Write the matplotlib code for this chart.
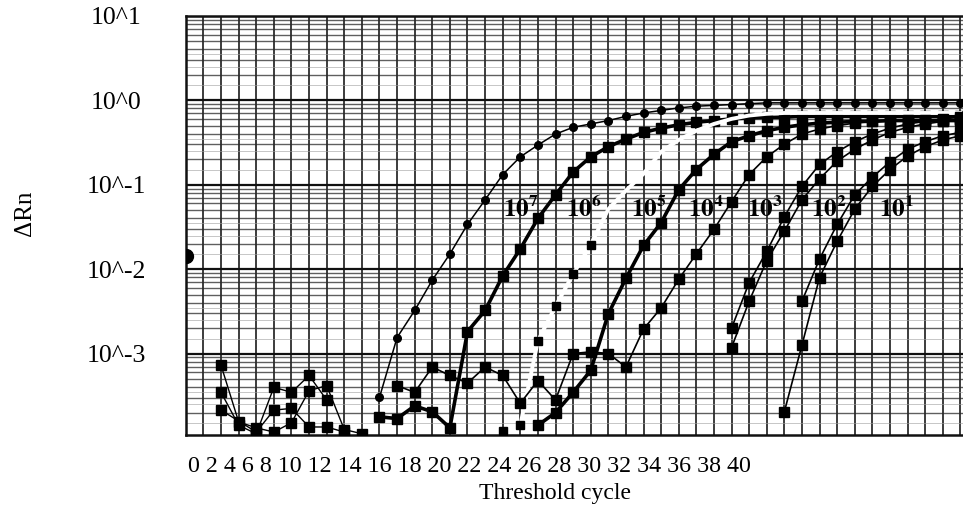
import numpy as np
import matplotlib
matplotlib.use("Agg")
import matplotlib.pyplot as plt

plt.rcParams["font.family"] = ["Liberation Serif", "DejaVu Serif"]
plt.rcParams["mathtext.fontset"] = "stix"

# --- data (x = cycle, y = log10 of delta Rn) ---
# 10^7 : thin line, small round markers
cyc_7 = list(range(11, 45))
lg_7 = [-3.52, -2.81, -2.49, -2.13, -1.82, -1.47, -1.18, -0.88, -0.67, -0.53,
        -0.40, -0.32, -0.28, -0.24, -0.19, -0.15, -0.12, -0.09, -0.07, -0.06,
        -0.05, -0.04, -0.03, -0.03, -0.03, -0.03, -0.03, -0.03, -0.03, -0.03,
        -0.03, -0.03, -0.03, -0.03]
# 10^6 : thick (duplicate overlap)
cyc_6 = list(range(11, 45))
lg_6 = [-3.75, -3.77, -3.62, -3.69, -3.88, -2.74, -2.49, -2.08, -1.76, -1.40,
        -1.12, -0.85, -0.67, -0.55, -0.46, -0.38, -0.33, -0.29, -0.26, -0.24,
        -0.22, -0.21, -0.20, -0.20, -0.19, -0.19, -0.19, -0.19, -0.19, -0.19,
        -0.19, -0.19, -0.19, -0.19]
# 10^5 : white line
cyc_5 = list(range(18, 45))
lg_5 = [-3.92, -3.85, -2.85, -2.44, -2.06, -1.71, -1.29, -1.07, -0.87, -0.61,
        -0.47, -0.36, -0.28, -0.22, -0.18, -0.16, -0.15, -0.15, -0.15, -0.15,
        -0.15, -0.15, -0.15, -0.15, -0.15, -0.15, -0.15]
# 10^4 : thick
cyc_4 = list(range(20, 45))
lg_4 = [-3.85, -3.70, -3.46, -3.20, -2.53, -2.11, -1.72, -1.45, -1.06, -0.82,
        -0.64, -0.49, -0.42, -0.36, -0.32, -0.29, -0.27, -0.26, -0.25, -0.25,
        -0.24, -0.24, -0.24, -0.24, -0.24]
# 10^3 : wavy baseline then rise
cyc_3 = list(range(12, 45))
lg_3 = [-3.38, -3.46, -3.16, -3.26, -3.35, -3.16, -3.26, -3.59, -3.32, -3.55,
        -3.00, -2.98, -3.00, -3.16, -2.71, -2.46, -2.12, -1.82, -1.53, -1.20,
        -0.88, -0.67, -0.52, -0.40, -0.34, -0.30, -0.27, -0.25, -0.24, -0.23,
        -0.23, -0.23, -0.23]
# 10^2 : pair
cyc_2 = list(range(31, 45))
lg_2a = [-2.70, -2.16, -1.79, -1.38, -1.02, -0.76, -0.61, -0.49, -0.40, -0.33,
         -0.28, -0.25, -0.22, -0.20]
lg_2b = [-2.93, -2.38, -1.90, -1.55, -1.18, -0.93, -0.72, -0.58, -0.47, -0.38,
         -0.32, -0.28, -0.25, -0.22]
# 10^1 : pair
cyc_1a = list(range(35, 45))
lg_1a = [-2.38, -1.88, -1.47, -1.12, -0.91, -0.73, -0.58, -0.49, -0.42, -0.38]
cyc_1b = list(range(34, 45))
lg_1b = [-3.69, -2.90, -2.10, -1.67, -1.29, -1.02, -0.82, -0.66, -0.55, -0.47, -0.42]
# early baseline noise
cyc_n1 = [2, 3, 4, 5, 6, 7, 8, 9, 10]
lg_n1 = [-3.14, -3.81, -3.88, -3.93, -3.82, -3.44, -3.38, -3.90, -3.95]
cyc_n2 = [2, 3, 4, 5, 6, 7, 8]
lg_n2 = [-3.46, -3.85, -3.95, -3.40, -3.46, -3.26, -3.55]
cyc_n3 = [2, 4, 5, 6, 7, 8, 9]
lg_n3 = [-3.67, -3.93, -3.67, -3.65, -3.87, -3.87, -3.93]
cyc_0 = [0]
lg_0 = [-1.85]

ytick_vals = [1e1, 1e0, 1e-1, 1e-2, 1e-3]
ytick_labels = ["10^1", "10^0", "10^-1", "10^-2", "10^-3"]
xtick_text = "0 2 4 6 8 10 12 14 16 18 20 22 24 26 28 30 32 34 36 38 40"
curve_labels = ["7", "6", "5", "4", "3", "2", "1"]
label_cycles = [18.0, 21.6, 25.3, 28.5, 31.9, 35.5, 39.4]

fig = plt.figure(figsize=(9.63, 5.08), dpi=100)
ax = fig.add_axes([0.193, 0.1437, 0.807, 0.825])
ax.set_yscale("log")
ax.set_xlim(0, 44.15)
ax.set_ylim(10 ** -3.965, 10 ** 0.965)

# graph-paper grid
for c in range(0, 45):
    ax.axvline(c, color="#1a1a1a", lw=1.4, alpha=0.85, zorder=1)
for d in range(-4, 2):
    ax.axhline(10.0 ** d, color="#111111", lw=1.6, zorder=1)
    for s in [2, 3, 4, 5, 6, 7, 8, 9]:
        ax.axhline(s * 10.0 ** d, color="#2a2a2a", lw=1.0, alpha=0.75, zorder=1)
    for s in [1.5, 2.5, 3.5]:
        ax.axhline(s * 10.0 ** d, color="#a0a0a0", lw=0.7, alpha=0.6, zorder=1)


def lin(v):
    return [10.0 ** x for x in v]


k = dict(color="black", zorder=3)
ax.plot(cyc_n1, lin(lg_n1), lw=1, marker="s", ms=7, **k)
ax.plot(cyc_n2, lin(lg_n2), lw=1, marker="s", ms=7, **k)
ax.plot(cyc_n3, lin(lg_n3), lw=1, marker="s", ms=7, **k)
ax.plot(cyc_0, lin(lg_0), lw=0, marker="o", ms=10, clip_on=True, **k)

ax.plot(cyc_7, lin(lg_7), lw=1.1, marker="o", ms=5.5, **k)
ax.plot(cyc_6, lin(lg_6), lw=2.6, marker="s", ms=7.5, **k)
ax.plot(cyc_5, lin(lg_5), color="white", lw=2.8, zorder=3)
ax.plot(cyc_5[:6], lin(lg_5[:6]), lw=0, marker="s", ms=6, **k)
ax.plot(cyc_4, lin(lg_4), lw=2.6, marker="s", ms=7.5, **k)
ax.plot(cyc_3, lin(lg_3), lw=1.2, marker="s", ms=6.5, **k)
ax.plot(cyc_2, lin(lg_2a), lw=1.2, marker="s", ms=6.5, **k)
ax.plot(cyc_2, lin(lg_2b), lw=1.2, marker="s", ms=6.5, **k)
ax.plot(cyc_1a, lin(lg_1a), lw=1.2, marker="s", ms=6.5, **k)
ax.plot(cyc_1b, lin(lg_1b), lw=1.2, marker="s", ms=6.5, **k)

for lab, c in zip(curve_labels, label_cycles):
    ax.text(c, 10 ** -1.29, r"$\mathbf{10^{%s}}$" % lab, fontsize=18,
            ha="left", va="center", zorder=5)

for sp in ["left", "bottom", "top"]:
    ax.spines[sp].set_color("#111111")
    ax.spines[sp].set_linewidth(1.8)
ax.spines["right"].set_visible(False)

ax.set_yticks(ytick_vals, ytick_labels, fontsize=18.5)
ax.minorticks_off()
for t in ax.get_yticklabels():
    t.set_horizontalalignment("center")
ax.tick_params(axis="y", length=0, pad=50)
ax.set_xticks([])

fig.text(188 / 963, 1 - 467 / 508, xtick_text, fontsize=17.3, ha="left", va="center")
fig.text(555 / 963, 1 - 493 / 508, "Threshold cycle", fontsize=17, ha="center", va="center")
fig.text(25 / 963, 1 - 213 / 508, "ΔRn", fontsize=18, rotation=90, ha="center", va="center")

fig.savefig("out.png", dpi=100)
